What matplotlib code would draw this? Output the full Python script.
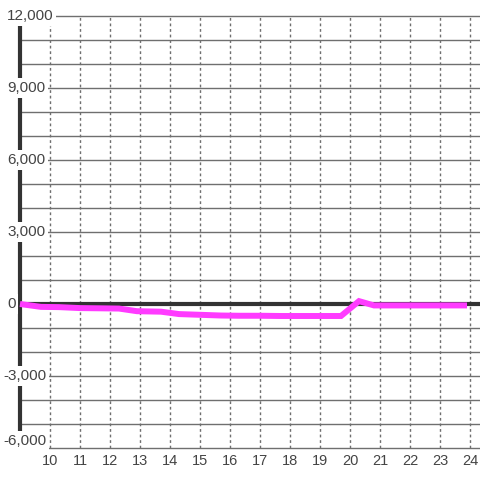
import matplotlib
matplotlib.use("Agg")
import matplotlib.pyplot as plt
import matplotlib.transforms as mtransforms

plt.rcParams['font.family'] = ['Liberation Sans', 'DejaVu Sans']

# Series (hour of day vs. value).
hours = [9.0, 9.7, 10.3, 11.0, 11.7, 12.3, 12.9, 13.7, 14.3, 15.0, 15.7, 16.3,
         17.0, 17.7, 18.3, 19.0, 19.7, 20.3, 20.8, 21.5, 22.2, 22.9, 23.5, 23.9]
values = [0, -120, -130, -170, -180, -190, -300, -320, -420, -450, -480, -490,
          -490, -500, -500, -500, -500, 120, -60, -60, -60, -60, -60, -60]

x_ticks = list(range(10, 25))
y_grid = list(range(-6000, 12001, 1000))
y_labels = [12000, 9000, 6000, 3000, 0, -3000, -6000]

fig = plt.figure(figsize=(4.8, 4.8), dpi=100)
ax = fig.add_axes([0, 32 / 480, 1, 432 / 480])
ax.set_xlim(8 + 1 / 3, 24 + 1 / 3)
ax.set_ylim(-6000, 12000)
ax.axis('off')

# Horizontal grid lines, one per thousand.
for v in y_grid:
    ax.plot([9, 24 + 1 / 3], [v, v], color='#6f6f6f', lw=1, zorder=1,
            clip_on=False)

# Dotted vertical lines at each hour.
for h in x_ticks:
    ax.plot([h, h], [-6000, 12000], color='#6f6f6f', lw=1,
            linestyle=(0, (2, 2)), zorder=1)

# Zero line and left axis.
ax.plot([9, 24 + 1 / 3], [0, 0], color='#333333', lw=3, zorder=2, clip_on=False)
ax.plot([9, 9], [-6000, 12000], color='#333333', lw=3, zorder=2,
        solid_capstyle='butt')

ax.plot(hours, values, color='#ff3bff', lw=4.3, zorder=3,
        solid_joinstyle='miter', solid_capstyle='butt')

# Y labels sit on white boxes over the axis.
trans = mtransforms.blended_transform_factory(fig.transFigure, ax.transData)
for v in y_labels:
    x0 = 7 / 480 if v >= 0 else 3 / 480
    yy = v
    if v == -6000:
        yy = v + 300
    ax.text(x0, yy, f"{v:,}", transform=trans, ha='left', va='center',
            fontsize=11, color='#444444', zorder=5,
            bbox=dict(facecolor='white', edgecolor='none', pad=2))

for h in x_ticks:
    ax.text(h, -6000 - 260, str(h), ha='center', va='top', fontsize=10.5,
            color='#444444', clip_on=False)

fig.savefig("out.png", dpi=100, facecolor='white')
